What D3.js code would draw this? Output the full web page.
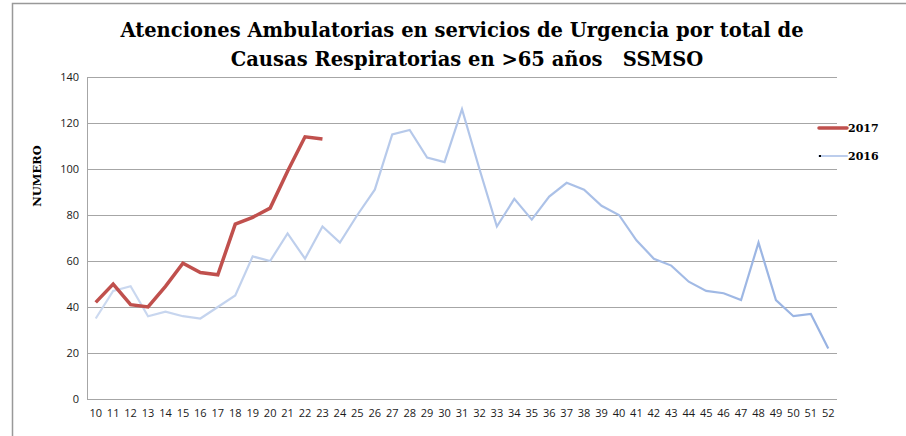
<!DOCTYPE html>
<html>
<head>
<meta charset="utf-8">
<style>
body { margin: 0; background: #fff; }
text { font-family: "Open Sans", "Liberation Sans", sans-serif; }
.title { font-family: "DejaVu Serif", serif; font-weight: bold; font-size: 19.5px; fill: #000; white-space: pre; }
.ylab { font-family: "DejaVu Serif", serif; font-weight: bold; font-size: 11.5px; }
.legend text { font-family: "DejaVu Serif", serif; font-weight: bold; font-size: 11px; }
.tick text { font-size: 11px; fill: #1a1a1a; }
</style>
</head>
<body>
<script src="https://cdn.jsdelivr.net/npm/d3@7"></script>
<script>

// weeks on the x axis
var weeks = d3.range(10, 53).map(String);

var values2016 = [35, 47, 49, 36, 38, 36, 35, 40, 45, 62, 60, 72, 61, 75, 68, 80, 91, 115, 117, 105,
                  103, 126, 100, 75, 87, 78, 88, 94, 91, 84, 80, 69, 61, 58, 51, 47, 46, 43, 68, 43,
                  36, 37, 22];
var values2017 = [42, 50, 41, 40, 49, 59, 55, 54, 76, 79, 83, 99, 114, 113];

var yTicks = [0, 20, 40, 60, 80, 100, 120, 140];

var width = 906, height = 436;
var margin = {left: 87, right: 69, top: 77, bottom: 37};

var svg = d3.select("body").append("svg")
    .attr("width", width)
    .attr("height", height);

// outer frame
svg.append("path")
    .attr("d", "M12.5," + height + "V3.5H" + width)
    .attr("fill", "none")
    .attr("stroke", "#999")
    .attr("stroke-width", 1.5);

var x = d3.scaleBand()
    .domain(weeks)
    .range([margin.left, width - margin.right]);

var y = d3.scaleLinear()
    .domain([0, 140])
    .range([height - margin.bottom, margin.top]);

// gridlines
svg.append("g")
    .selectAll("line")
    .data(yTicks)
    .enter().append("line")
    .attr("x1", margin.left)
    .attr("x2", width - margin.right)
    .attr("y1", function(d) { return Math.round(y(d)) + 0.5; })
    .attr("y2", function(d) { return Math.round(y(d)) + 0.5; })
    .attr("stroke", "#a6a6a6")
    .attr("stroke-width", 1);

// left axis line
svg.append("line")
    .attr("x1", margin.left + 0.5).attr("x2", margin.left + 0.5)
    .attr("y1", Math.round(y(140)) + 0.5).attr("y2", Math.round(y(0)) + 0.5)
    .attr("stroke", "#a6a6a6");

var yAxis = svg.append("g")
    .attr("transform", "translate(" + (margin.left - 8) + ",0)")
    .call(d3.axisLeft(y).tickValues(yTicks).tickSize(0).tickPadding(0));
yAxis.select(".domain").remove();

var xAxis = svg.append("g")
    .attr("transform", "translate(0," + (height - margin.bottom + 9) + ")")
    .call(d3.axisBottom(x).tickSize(0).tickPadding(0));
xAxis.select(".domain").remove();
xAxis.selectAll("text").attr("dy", "0.8em");

// gradient for 2016 line
var grad = svg.append("defs").append("linearGradient")
    .attr("id", "g2016")
    .attr("gradientUnits", "userSpaceOnUse")
    .attr("x1", margin.left).attr("x2", width - margin.right)
    .attr("y1", 0).attr("y2", 0);
grad.append("stop").attr("offset", "0%").attr("stop-color", "#cddaf0");
grad.append("stop").attr("offset", "100%").attr("stop-color", "#97b2e2");

var line = d3.line()
    .x(function(d, i) { return x(weeks[i]) + x.bandwidth() / 2; })
    .y(function(d) { return y(d); });

svg.append("path")
    .datum(values2016)
    .attr("d", line)
    .attr("fill", "none")
    .attr("stroke", "url(#g2016)")
    .attr("stroke-width", 2.2)
    .attr("stroke-linejoin", "miter");

svg.append("path")
    .datum(values2017)
    .attr("d", line)
    .attr("fill", "none")
    .attr("stroke", "#c0504d")
    .attr("stroke-width", 3.5)
    .attr("stroke-linejoin", "miter");

// title
var title = svg.append("text")
    .attr("class", "title")
    .attr("text-anchor", "middle")
    .attr("x", 462);
title.append("tspan").attr("x", 462).attr("y", 37)
    .text("Atenciones Ambulatorias en servicios de Urgencia por total de");
title.append("tspan").attr("x", 467).attr("y", 66)
    .text("Causas Respiratorias en >65 años   SSMSO");

// y label
svg.append("text")
    .attr("class", "ylab")
    .attr("text-anchor", "middle")
    .attr("transform", "translate(41," + 176 + ") rotate(-90)")
    .text("NUMERO");

// legend
var legend = svg.append("g").attr("class", "legend");
var items = [{name: "2017", color: "#c0504d", w: 3.5, y: 128},
             {name: "2016", color: "#bccdec", w: 2, y: 156}];
legend.selectAll("line")
    .data(items)
    .enter().append("line")
    .attr("x1", 819).attr("x2", 847)
    .attr("y1", function(d) { return d.y; })
    .attr("y2", function(d) { return d.y; })
    .attr("stroke", function(d) { return d.color; })
    .attr("stroke-width", function(d) { return d.w; })
    .attr("stroke-linecap", "round");
legend.append("rect")
    .attr("x", 819).attr("y", 155).attr("width", 2).attr("height", 2)
    .attr("fill", "#000");
legend.selectAll("text")
    .data(items)
    .enter().append("text")
    .attr("x", 848)
    .attr("y", function(d) { return d.y + 4; })
    .text(function(d) { return d.name; });

</script>
</body>
</html>
